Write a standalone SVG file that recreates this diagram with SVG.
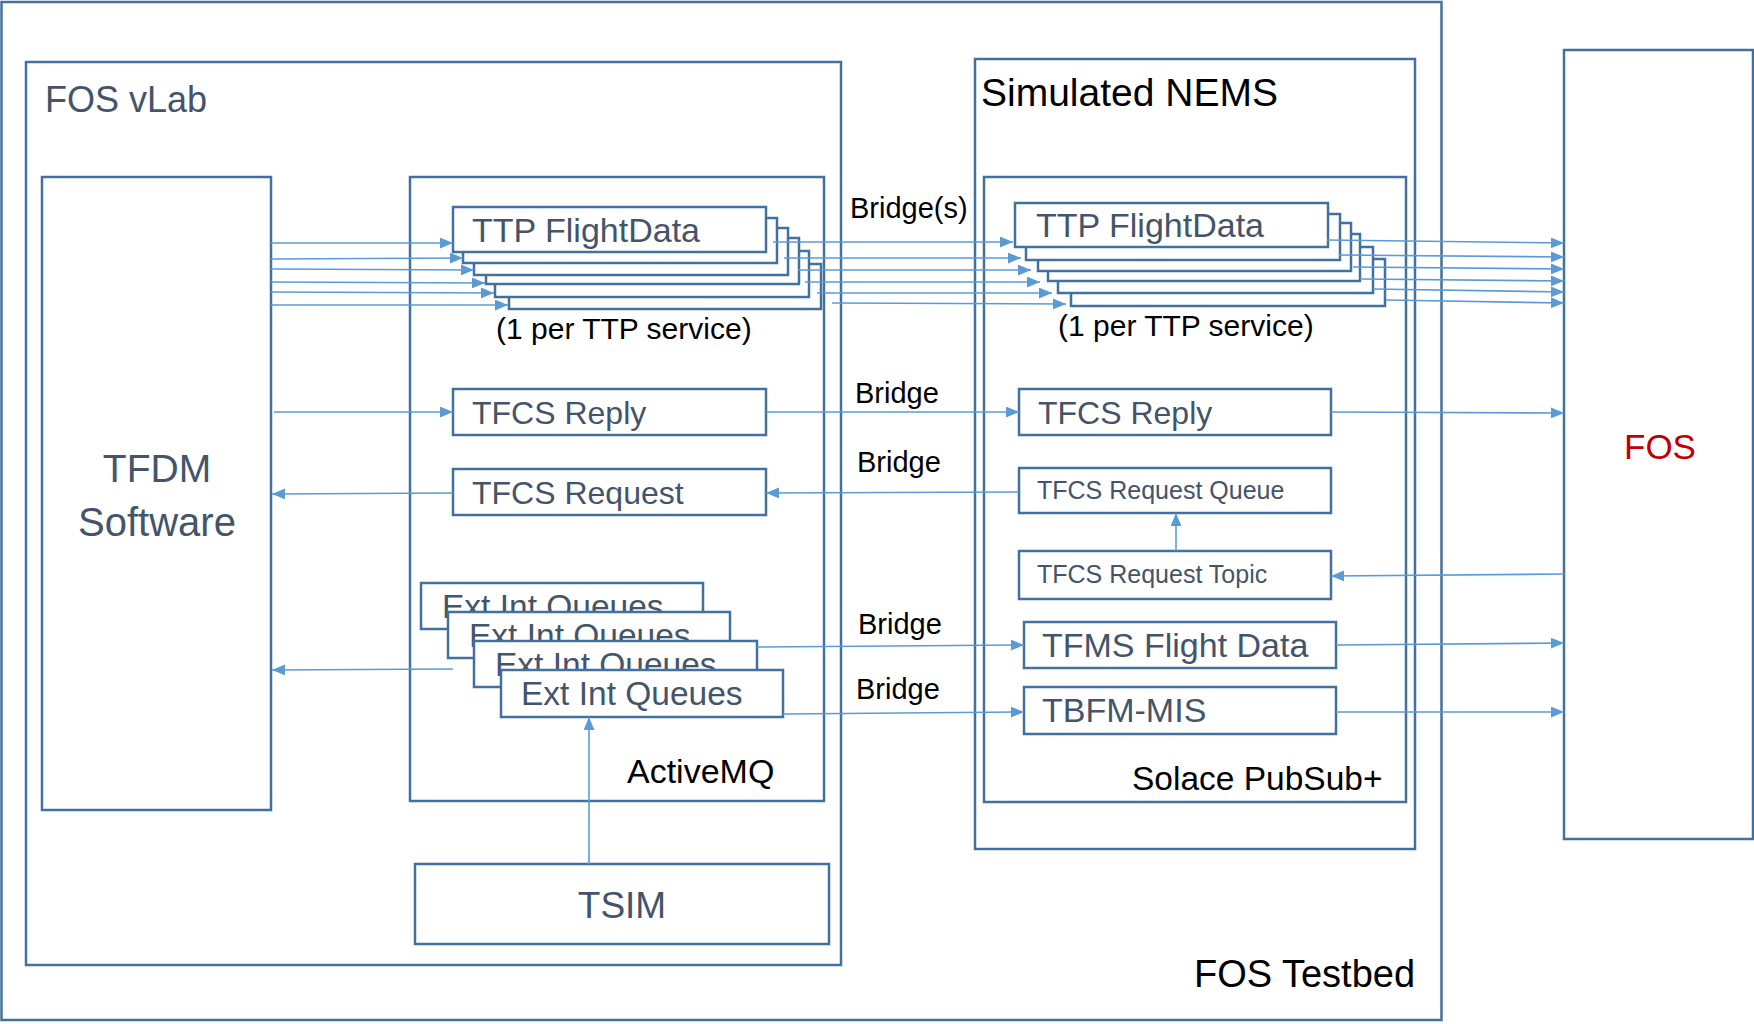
<svg xmlns="http://www.w3.org/2000/svg" width="1754" height="1024" viewBox="0 0 1754 1024">
<defs>
<style>
.box{fill:#fff;stroke:#41719C;stroke-width:2.5}
.frame{fill:none;stroke:#41719C;stroke-width:2.5}
.t{font-family:"Liberation Sans",Arial,sans-serif;fill:#44546A}
.k{font-family:"Liberation Sans",Arial,sans-serif;fill:#000}
.c{fill:none;stroke:#5B9BD5;stroke-width:1.6}
</style>
<marker id="arr" viewBox="0 0 12 10" refX="12" refY="5" markerWidth="13" markerHeight="11" markerUnits="userSpaceOnUse" orient="auto">
<path d="M0,0 L12,5 L0,10 z" fill="#5B9BD5"/>
</marker>
</defs>
<rect width="1754" height="1024" fill="#fff"/>

<g id="fos-testbed">
<rect class="frame" x="1.5" y="2" width="1440" height="1018"/>
<text class="k" x="1194" y="987" font-size="38">FOS Testbed</text>
</g>

<g id="fos-vlab">
<rect class="frame" x="26" y="62" width="815" height="903"/>
<text class="t" x="45" y="112" font-size="36">FOS vLab</text>
</g>

<g id="tfdm">
<rect class="box" x="42" y="177" width="229" height="633"/>
<text class="t" x="157" y="482" font-size="39" text-anchor="middle">TFDM</text>
<text class="t" x="157" y="536" font-size="40" text-anchor="middle">Software</text>
</g>

<g id="activemq">
<rect class="box" x="410" y="177" width="414" height="624"/>
<text class="k" x="627" y="783" font-size="34">ActiveMQ</text>
</g>

<g id="amq-ttp-flightdata">
<rect class="box" x="509" y="264" width="312" height="45"/>
<rect class="box" x="495" y="251" width="314" height="46"/>
<rect class="box" x="486" y="238" width="313" height="46"/>
<rect class="box" x="474" y="228" width="314" height="47"/>
<rect class="box" x="463" y="218" width="314" height="45"/>
<rect class="box" x="453" y="207" width="313" height="45"/>
<text class="t" x="472" y="242" font-size="34">TTP FlightData</text>
<text class="k" x="496" y="339" font-size="30">(1 per TTP service)</text>
</g>

<g id="amq-tfcs-reply">
<rect class="box" x="453" y="389" width="313" height="46"/>
<text class="t" x="472" y="424" font-size="32">TFCS Reply</text>
</g>

<g id="amq-tfcs-request">
<rect class="box" x="453" y="469" width="313" height="46"/>
<text class="t" x="472" y="504" font-size="32">TFCS Request</text>
</g>

<g id="amq-ext-int-queues">
<rect class="box" x="421" y="583" width="282" height="46"/>
<text class="t" x="442" y="618" font-size="33.5">Ext Int Queues</text>
<rect class="box" x="448" y="612" width="282" height="46"/>
<text class="t" x="469" y="647" font-size="33.5">Ext Int Queues</text>
<rect class="box" x="474" y="641" width="283" height="46"/>
<text class="t" x="495" y="676" font-size="33.5">Ext Int Queues</text>
<rect class="box" x="501" y="670" width="282" height="47"/>
<text class="t" x="521" y="705" font-size="33.5">Ext Int Queues</text>
</g>

<g id="tsim">
<rect class="box" x="415" y="864" width="414" height="80"/>
<text class="t" x="622" y="918" font-size="37" text-anchor="middle">TSIM</text>
</g>

<g id="simulated-nems">
<rect class="frame" x="975" y="59" width="440" height="790"/>
<text class="k" x="981" y="106" font-size="39">Simulated NEMS</text>
</g>

<g id="solace">
<rect class="box" x="984" y="177" width="422" height="625"/>
<text class="k" x="1132" y="790" font-size="33.5">Solace PubSub+</text>
</g>

<g id="sol-ttp-flightdata">
<rect class="box" x="1071" y="259" width="314" height="47"/>
<rect class="box" x="1058" y="247" width="315" height="46"/>
<rect class="box" x="1048" y="234" width="312" height="47"/>
<rect class="box" x="1038" y="223" width="313" height="48"/>
<rect class="box" x="1026" y="214" width="314" height="46"/>
<rect class="box" x="1015" y="203" width="313" height="44"/>
<text class="t" x="1036" y="237" font-size="34">TTP FlightData</text>
<text class="k" x="1058" y="336" font-size="30">(1 per TTP service)</text>
</g>

<g id="sol-tfcs-reply">
<rect class="box" x="1019" y="389" width="312" height="46"/>
<text class="t" x="1038" y="424" font-size="32">TFCS Reply</text>
</g>

<g id="sol-tfcs-request-queue">
<rect class="box" x="1019" y="468" width="312" height="45"/>
<text class="t" x="1037" y="499" font-size="25">TFCS Request Queue</text>
</g>

<g id="sol-tfcs-request-topic">
<rect class="box" x="1019" y="551" width="312" height="48"/>
<text class="t" x="1037" y="583" font-size="25">TFCS Request Topic</text>
</g>

<g id="sol-tfms-flight-data">
<rect class="box" x="1024" y="622" width="312" height="46"/>
<text class="t" x="1042" y="657" font-size="34">TFMS Flight Data</text>
</g>

<g id="sol-tbfm-mis">
<rect class="box" x="1024" y="687" width="312" height="47"/>
<text class="t" x="1042" y="722" font-size="34">TBFM-MIS</text>
</g>

<g id="fos">
<rect class="frame" x="1564" y="50" width="189" height="789"/>
<text x="1624" y="459" font-size="35" font-family="Liberation Sans, Arial, sans-serif" fill="#C00000">FOS</text>
</g>

<g id="connectors">
<path class="c" marker-end="url(#arr)" d="M271,243 L453,243"/>
<path class="c" marker-end="url(#arr)" d="M271,259 L463,258"/>
<path class="c" marker-end="url(#arr)" d="M271,269 L474,270"/>
<path class="c" marker-end="url(#arr)" d="M271,282 L485,283"/>
<path class="c" marker-end="url(#arr)" d="M271,292 L494,293"/>
<path class="c" marker-end="url(#arr)" d="M271,305 L508,305"/>
<path class="c" marker-end="url(#arr)" d="M773,242 L1013,242"/>
<path class="c" marker-end="url(#arr)" d="M784,258 L1021,258"/>
<path class="c" marker-end="url(#arr)" d="M798,270 L1031,270"/>
<path class="c" marker-end="url(#arr)" d="M805,282 L1040,282"/>
<path class="c" marker-end="url(#arr)" d="M817,293 L1052,293"/>
<path class="c" marker-end="url(#arr)" d="M832,303 L1066,304"/>
<path class="c" marker-end="url(#arr)" d="M1327,240 L1564,243"/>
<path class="c" marker-end="url(#arr)" d="M1339,255 L1564,257"/>
<path class="c" marker-end="url(#arr)" d="M1353,267 L1564,269"/>
<path class="c" marker-end="url(#arr)" d="M1360,279 L1564,281"/>
<path class="c" marker-end="url(#arr)" d="M1373,289 L1564,292"/>
<path class="c" marker-end="url(#arr)" d="M1386,300 L1564,303"/>
<path class="c" marker-end="url(#arr)" d="M274,412 L453,412"/>
<path class="c" marker-end="url(#arr)" d="M766,412 L1019,412"/>
<path class="c" marker-end="url(#arr)" d="M1331,412 L1564,413"/>
<path class="c" marker-end="url(#arr)" d="M453,493 L272,494"/>
<path class="c" marker-end="url(#arr)" d="M1019,492 L766,493"/>
<path class="c" marker-end="url(#arr)" d="M1176,551 L1176,513"/>
<path class="c" marker-end="url(#arr)" d="M1564,574 L1331,576"/>
<path class="c" marker-end="url(#arr)" d="M453,669 L272,670"/>
<path class="c" marker-end="url(#arr)" d="M757,647 L1024,645"/>
<path class="c" marker-end="url(#arr)" d="M783,714 L1024,712"/>
<path class="c" marker-end="url(#arr)" d="M1336,645 L1564,643"/>
<path class="c" marker-end="url(#arr)" d="M1336,712 L1564,712"/>
<path class="c" marker-end="url(#arr)" d="M589,864 L589,717"/>
<text class="k" x="850" y="218" font-size="29">Bridge(s)</text>
<text class="k" x="855" y="403" font-size="29">Bridge</text>
<text class="k" x="857" y="472" font-size="29">Bridge</text>
<text class="k" x="858" y="634" font-size="29">Bridge</text>
<text class="k" x="856" y="699" font-size="29">Bridge</text>
</g>
</svg>
